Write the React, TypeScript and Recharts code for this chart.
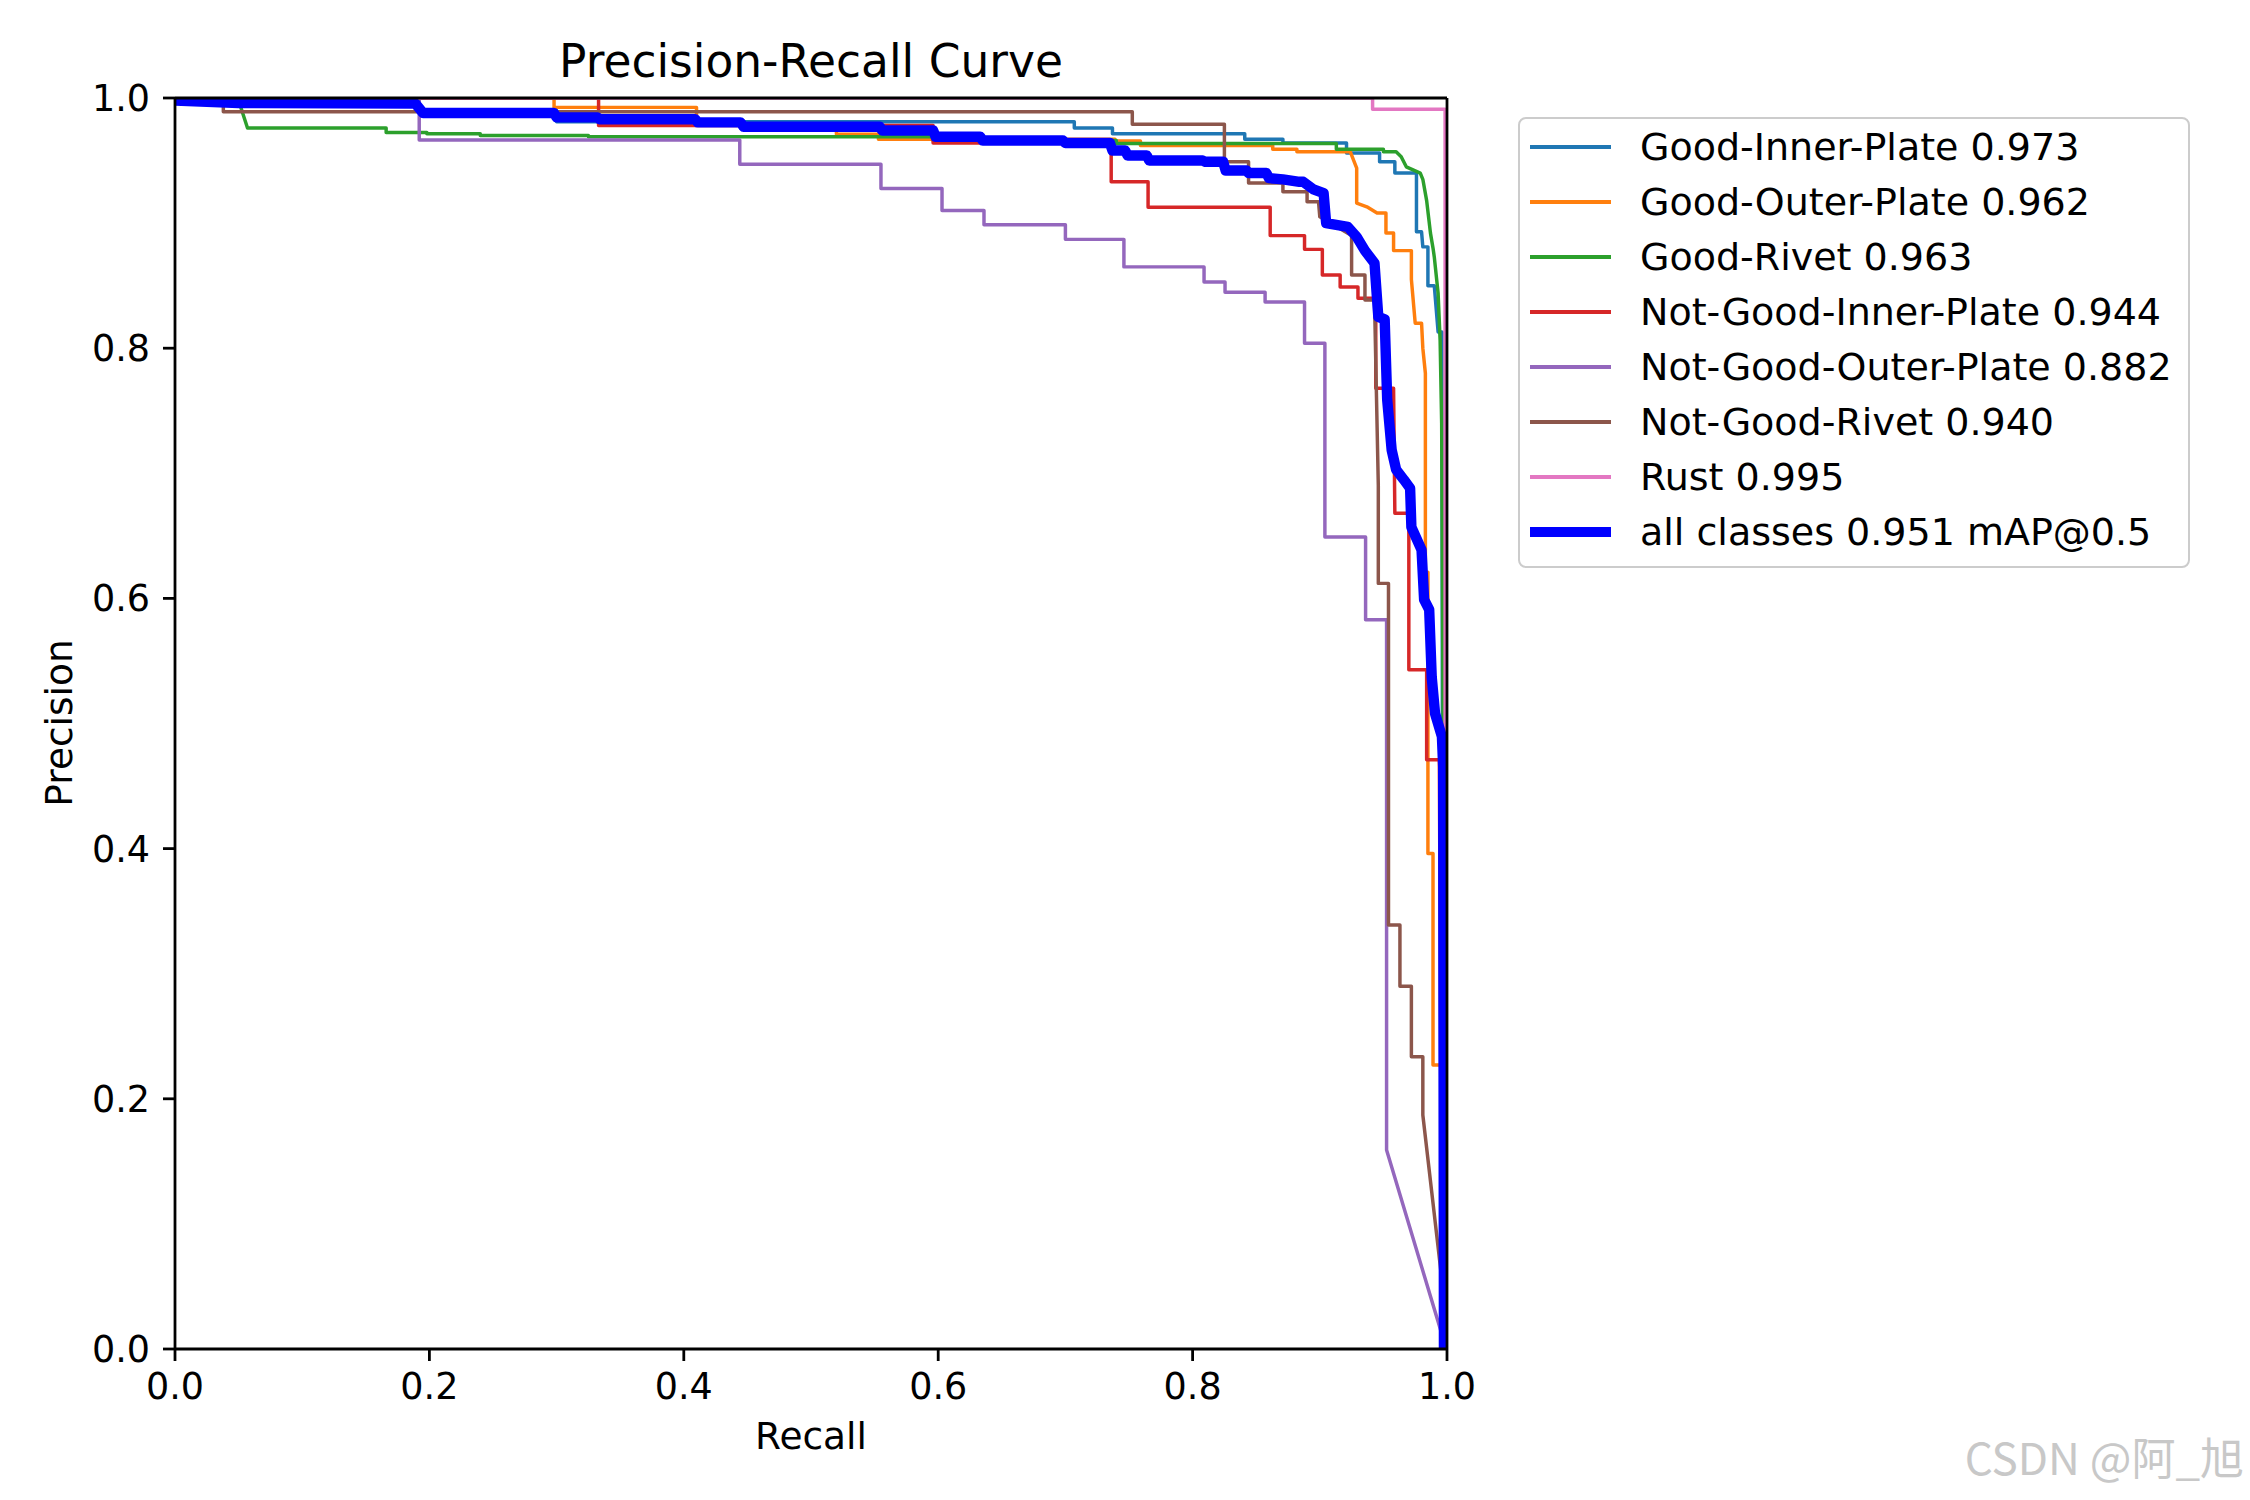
import { LineChart, Line, XAxis, YAxis, ReferenceLine, Legend } from "recharts";

type Pt = [number, number];

const recallTicks = [0, 0.2, 0.4, 0.6, 0.8, 1.0];
const precisionTicks = [0, 0.2, 0.4, 0.6, 0.8, 1.0];

const classNames = [
  "Good-Inner-Plate",
  "Good-Outer-Plate",
  "Good-Rivet",
  "Not-Good-Inner-Plate",
  "Not-Good-Outer-Plate",
  "Not-Good-Rivet",
  "Rust",
];
const classAP = [0.973, 0.962, 0.963, 0.944, 0.882, 0.94, 0.995];
const allClassesMAP = 0.951;

// [recall, precision]
const goodInnerPlate: Pt[] = [
  [0, 1], [0.1, 1], [0.1, 0.995], [0.19, 0.995], [0.19, 0.99], [0.3, 0.99], [0.3, 0.981],
  [0.707, 0.981], [0.707, 0.976], [0.737, 0.976], [0.737, 0.9715], [0.841, 0.9715],
  [0.841, 0.967], [0.871, 0.967], [0.871, 0.964], [0.921, 0.964], [0.921, 0.956],
  [0.947, 0.956], [0.947, 0.949], [0.959, 0.949], [0.959, 0.94], [0.976, 0.94],
  [0.976, 0.893], [0.98, 0.893], [0.981, 0.881], [0.985, 0.881], [0.985, 0.85],
  [0.99, 0.85], [0.993, 0.813], [0.996, 0.813], [0.997, 0],
];

const goodOuterPlate: Pt[] = [
  [0, 1], [0.298, 1], [0.298, 0.9925], [0.41, 0.9925], [0.41, 0.979], [0.52, 0.979],
  [0.52, 0.971], [0.553, 0.971], [0.553, 0.967], [0.739, 0.967], [0.739, 0.9656],
  [0.759, 0.9656], [0.759, 0.962], [0.863, 0.962], [0.863, 0.959], [0.882, 0.959],
  [0.882, 0.957], [0.924, 0.957], [0.929, 0.944], [0.929, 0.916], [0.937, 0.913],
  [0.945, 0.908], [0.952, 0.908], [0.952, 0.892], [0.958, 0.892], [0.958, 0.878],
  [0.972, 0.878], [0.972, 0.855], [0.975, 0.82], [0.98, 0.82], [0.981, 0.8],
  [0.983, 0.78], [0.983, 0.621], [0.985, 0.621], [0.985, 0.396], [0.989, 0.396],
  [0.989, 0.227], [0.996, 0.227], [0.997, 0],
];

const goodRivet: Pt[] = [
  [0, 1], [0.05, 0.998], [0.057, 0.976], [0.166, 0.976], [0.166, 0.9725], [0.198, 0.9725],
  [0.198, 0.9715], [0.24, 0.9715], [0.24, 0.97], [0.325, 0.97], [0.325, 0.969],
  [0.596, 0.969], [0.596, 0.966], [0.74, 0.966], [0.74, 0.9637], [0.913, 0.9637],
  [0.913, 0.959], [0.95, 0.959], [0.95, 0.957], [0.96, 0.957], [0.964, 0.953],
  [0.968, 0.945], [0.979, 0.94], [0.981, 0.935], [0.984, 0.918], [0.987, 0.892],
  [0.989, 0.88], [0.99, 0.873], [0.993, 0.844], [0.9946, 0.806], [0.9958, 0.74],
  [0.997, 0.49], [0.998, 0],
];

const notGoodInnerPlate: Pt[] = [
  [0, 1], [0.333, 1], [0.333, 0.978], [0.596, 0.978], [0.596, 0.964], [0.736, 0.964],
  [0.736, 0.933], [0.765, 0.933], [0.765, 0.9126], [0.861, 0.9126], [0.861, 0.89],
  [0.888, 0.89], [0.888, 0.879], [0.902, 0.879], [0.902, 0.8585], [0.916, 0.8585],
  [0.916, 0.849], [0.93, 0.849], [0.93, 0.84], [0.944, 0.84], [0.944, 0.768],
  [0.958, 0.768], [0.959, 0.668], [0.97, 0.668], [0.97, 0.543], [0.984, 0.543],
  [0.984, 0.471], [0.994, 0.471], [0.996, 0],
];

const notGoodOuterPlate: Pt[] = [
  [0, 1], [0.192, 1], [0.192, 0.9664], [0.444, 0.9664], [0.444, 0.947], [0.555, 0.947],
  [0.555, 0.9277], [0.603, 0.9277], [0.603, 0.91], [0.636, 0.91], [0.636, 0.8987],
  [0.7, 0.8987], [0.7, 0.887], [0.746, 0.887], [0.746, 0.865], [0.809, 0.865],
  [0.809, 0.853], [0.8255, 0.853], [0.8255, 0.8447], [0.857, 0.8447], [0.857, 0.837],
  [0.888, 0.837], [0.888, 0.804], [0.904, 0.804], [0.904, 0.649], [0.936, 0.649],
  [0.936, 0.583], [0.9525, 0.583], [0.9525, 0.159], [0.9965, 0.01], [0.997, 0],
];

const notGoodRivet: Pt[] = [
  [0, 1], [0.038, 1], [0.038, 0.989], [0.7526, 0.989], [0.7526, 0.979], [0.825, 0.979],
  [0.825, 0.949], [0.844, 0.949], [0.844, 0.932], [0.871, 0.932], [0.871, 0.925],
  [0.89, 0.925], [0.89, 0.917], [0.899, 0.917], [0.9, 0.905], [0.925, 0.89],
  [0.925, 0.8585], [0.9355, 0.8585], [0.9355, 0.8385], [0.943, 0.8385], [0.946, 0.69],
  [0.946, 0.612], [0.954, 0.612], [0.954, 0.339], [0.963, 0.339], [0.963, 0.29],
  [0.972, 0.29], [0.972, 0.2337], [0.981, 0.2337], [0.981, 0.187], [0.996, 0.055],
  [0.997, 0],
];

const rust: Pt[] = [
  [0, 1], [0.9415, 1], [0.9415, 0.991], [0.9985, 0.991], [0.9985, 0],
];

const allClasses: Pt[] = [
  [0, 0.998], [0.05, 0.996], [0.189, 0.9955], [0.195, 0.988], [0.298, 0.988],
  [0.3, 0.9845], [0.332, 0.9845], [0.334, 0.983], [0.409, 0.983], [0.411, 0.9805],
  [0.4446, 0.9805], [0.447, 0.977], [0.554, 0.977], [0.556, 0.974], [0.596, 0.974],
  [0.598, 0.969], [0.633, 0.969], [0.635, 0.966], [0.698, 0.966], [0.7, 0.964],
  [0.735, 0.964], [0.737, 0.958], [0.747, 0.958], [0.749, 0.954], [0.764, 0.954],
  [0.766, 0.95], [0.808, 0.95], [0.81, 0.949], [0.824, 0.949], [0.826, 0.942],
  [0.8425, 0.942], [0.844, 0.94], [0.858, 0.94], [0.86, 0.936], [0.871, 0.935],
  [0.884, 0.933], [0.887, 0.933], [0.895, 0.927], [0.903, 0.924], [0.905, 0.9],
  [0.922, 0.897], [0.929, 0.889], [0.9355, 0.878], [0.943, 0.868], [0.946, 0.825],
  [0.951, 0.823], [0.953, 0.7586], [0.9565, 0.7186], [0.96, 0.703], [0.966, 0.695],
  [0.971, 0.688], [0.972, 0.657], [0.98, 0.6387], [0.982, 0.599], [0.986, 0.591],
  [0.988, 0.537], [0.9906, 0.508], [0.996, 0.4895], [0.997, 0.4655], [0.9976, 0],
];

const classCurves = [
  goodInnerPlate,
  goodOuterPlate,
  goodRivet,
  notGoodInnerPlate,
  notGoodOuterPlate,
  notGoodRivet,
  rust,
];

// matplotlib tab10
const classColors = ["#1f77b4", "#ff7f0e", "#2ca02c", "#d62728", "#9467bd", "#8c564b", "#e377c2"];

const FONT = "DejaVu Sans";
const SPINE = 2.78;
const THIN = 3.47;
const THICK = 10.4;

const toRows = (pts: Pt[]) => pts.map(([r, p]) => ({ r, p }));

const series = [
  ...classCurves.map((pts, i) => ({
    key: classNames[i],
    label: `${classNames[i]} ${classAP[i].toFixed(3)}`,
    color: classColors[i],
    width: THIN,
    data: toRows(pts),
  })),
  {
    key: "all",
    label: `all classes ${allClassesMAP.toFixed(3)} mAP@0.5`,
    color: "#0000ff",
    width: THICK,
    data: toRows(allClasses),
  },
];

function LegendBox() {
  return (
    <div
      style={{
        position: "relative",
        width: 672,
        height: 451,
        boxSizing: "border-box",
        border: `${SPINE}px solid #cccccc`,
        borderRadius: 8,
        background: "rgba(255,255,255,0.8)",
        fontFamily: FONT,
      }}
    >
      {series.map((s, i) => (
        <div
          key={s.key}
          style={{
            position: "absolute",
            left: 0,
            top: 28 + i * 55 - 25,
            height: 50,
            display: "flex",
            alignItems: "center",
            whiteSpace: "nowrap",
          }}
        >
          <div
            style={{
              marginLeft: 10,
              width: 81,
              height: s.width,
              background: s.color,
            }}
          />
          <span style={{ marginLeft: 29, fontSize: 38, color: "#000", lineHeight: "50px" }}>
            {s.label}
          </span>
        </div>
      ))}
    </div>
  );
}

export default function App() {
  const tickStyle = { fill: "#000", fontSize: 36.5, fontFamily: FONT };
  const tickLine = { stroke: "#000", strokeWidth: SPINE };
  const axisLine = { stroke: "#000", strokeWidth: SPINE };

  return (
    <div style={{ position: "absolute", left: 0, top: 0, width: 2250, height: 1500, background: "#fff" }}>
      <LineChart
        width={2250}
        height={1500}
        margin={{ top: 98, right: 803, bottom: 71, left: 15 }}
      >
        <XAxis
          type="number"
          dataKey="r"
          domain={[0, 1]}
          ticks={recallTicks}
          interval={0}
          allowDataOverflow
          tickFormatter={(v: number) => v.toFixed(1)}
          tick={tickStyle}
          tickLine={tickLine}
          axisLine={axisLine}
          tickSize={12}
          tickMargin={12}
          height={80}
          label={{
            content: () => (
              <text x={811} y={1449} textAnchor="middle" fontSize={37.5} fontFamily={FONT} fill="#000">
                Recall
              </text>
            ),
          }}
        />
        <YAxis
          type="number"
          dataKey="p"
          domain={[0, 1]}
          ticks={precisionTicks}
          interval={0}
          allowDataOverflow
          tickFormatter={(v: number) => v.toFixed(1)}
          tick={tickStyle}
          tickLine={tickLine}
          axisLine={axisLine}
          tickSize={12}
          tickMargin={13}
          width={160}
          label={{
            content: () => (
              <text
                x={72}
                y={723}
                transform="rotate(-90 72 723)"
                textAnchor="middle"
                fontSize={37.5}
                fontFamily={FONT}
                fill="#000"
              >
                Precision
              </text>
            ),
          }}
        />
        {series.map((s) => (
          <Line
            key={s.key}
            data={s.data}
            dataKey="p"
            name={s.label}
            type="linear"
            stroke={s.color}
            strokeWidth={s.width}
            strokeLinejoin="round"
            dot={false}
            activeDot={false}
            isAnimationActive={false}
          />
        ))}
        <ReferenceLine y={1} stroke="#000" strokeWidth={SPINE} />
        <ReferenceLine x={1} stroke="#000" strokeWidth={SPINE} />
        <Legend
          layout="vertical"
          align="center"
          verticalAlign="middle"
          wrapperStyle={{ left: 1518, top: 117, width: 672 }}
          content={() => <LegendBox />}
        />
      </LineChart>
      <svg
        width={2250}
        height={1500}
        style={{ position: "absolute", left: 0, top: 0, pointerEvents: "none" }}
      >
        <text x={811} y={77} textAnchor="middle" fontSize={45.5} fontFamily={FONT} fill="#000">
          Precision-Recall Curve
        </text>
        <text
          x={2244}
          y={1475}
          textAnchor="end"
          fontSize={44}
          fontFamily="Noto Sans CJK SC"
          fill="#c8c8c8"
        >
          CSDN @阿_旭
        </text>
      </svg>
    </div>
  );
}
